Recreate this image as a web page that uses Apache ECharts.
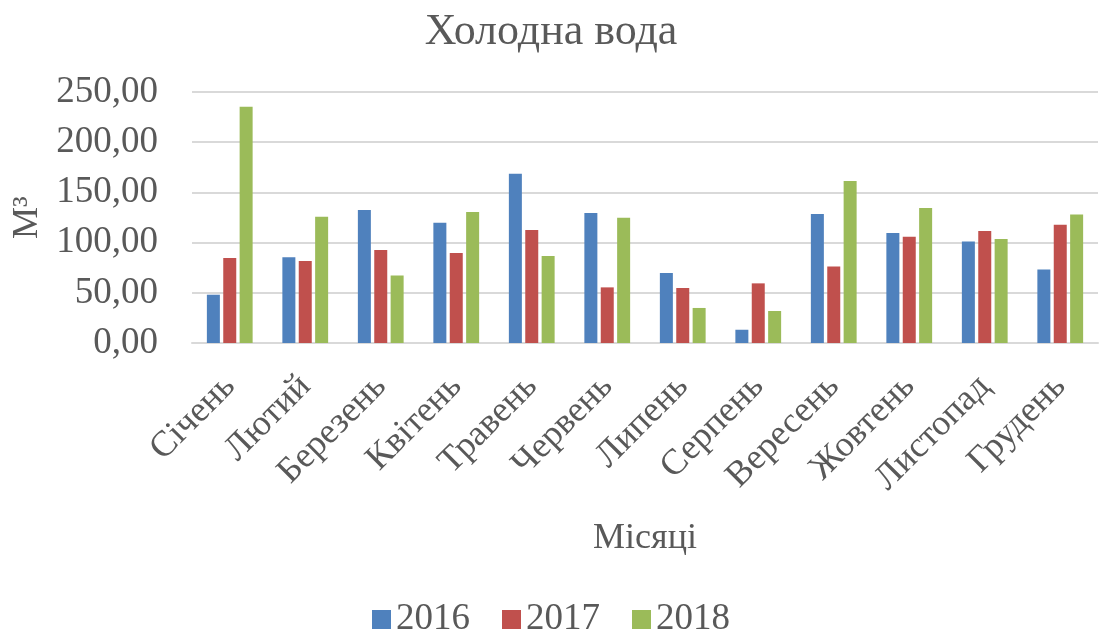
<!DOCTYPE html>
<html>
<head>
<meta charset="utf-8">
<script src="https://cdn.jsdelivr.net/npm/echarts@6/dist/echarts.min.js"></script>
<style>
  html, body { margin: 0; padding: 0; background: #fff; }
  #chart { width: 1102px; height: 633px; }
</style>
</head>
<body>
<div id="chart"></div>
<script>
// Monthly cold water consumption, m³
const months = ['Січень', 'Лютий', 'Березень', 'Квітень', 'Травень', 'Червень',
                'Липень', 'Серпень', 'Вересень', 'Жовтень', 'Листопад', 'Грудень'];
const years = ['2016', '2017', '2018'];
const values2016 = [48.1, 85.3, 132.5, 119.8, 168.6, 129.5, 69.7, 13.2, 128.5, 109.6, 101.2, 73.3];
const values2017 = [84.7, 81.7, 92.6, 89.6, 112.5, 55.4, 54.8, 59.4, 76.3, 105.9, 111.6, 117.8];
const values2018 = [235.3, 125.8, 67.3, 130.5, 86.7, 124.8, 34.9, 31.9, 161.4, 134.5, 103.6, 128.1];
const yTicks = { min: 0, max: 250, interval: 50 };

const FONT = '"Liberation Serif", "Times New Roman", serif';
const TEXT = '#595959';
const GRID = '#d9d9d9';
const colors = ['#4f81bd', '#c0504d', '#9bbb59'];

const fmt = v => v.toFixed(2).replace('.', ',');

const chart = echarts.init(document.getElementById('chart'), null, { renderer: 'canvas' });

chart.setOption({
  animation: false,
  color: colors,
  title: {
    text: 'Холодна вода',
    left: 'center',
    top: 5,
    textStyle: { fontFamily: FONT, fontSize: 44, fontWeight: 'normal', color: TEXT }
  },
  legend: {
    bottom: -10,
    left: 'center',
    itemWidth: 19,
    itemHeight: 19,
    itemGap: 32,
    itemTextGap: 8,
    icon: 'rect',
    data: years,
    textStyle: { fontFamily: FONT, fontSize: 37, color: TEXT }
  },
  grid: { left: 192, right: 4, top: 92, height: 251, containLabel: false },
  xAxis: {
    type: 'category',
    data: months,
    name: 'Місяці',
    nameLocation: 'middle',
    nameGap: 178,
    nameTextStyle: { fontFamily: FONT, fontSize: 36, color: TEXT },
    axisLine: { show: true, lineStyle: { color: GRID, width: 2 } },
    axisTick: { show: false },
    axisLabel: {
      interval: 0,
      rotate: 45,
      margin: 38,
      fontFamily: FONT,
      fontSize: 36,
      color: TEXT
    }
  },
  yAxis: {
    type: 'value',
    min: yTicks.min,
    max: yTicks.max,
    interval: yTicks.interval,
    name: 'М³',
    nameLocation: 'middle',
    nameGap: 145,
    nameRotate: 90,
    nameTextStyle: { fontFamily: FONT, fontSize: 36, color: TEXT },
    axisLine: { show: false },
    axisTick: { show: false },
    axisLabel: {
      margin: 34,
      fontFamily: FONT,
      fontSize: 37,
      color: TEXT,
      formatter: fmt
    },
    splitLine: { lineStyle: { color: GRID, width: 2 } }
  },
  series: [
    { name: years[0], type: 'bar', data: values2016, barWidth: 13, barGap: '26%' },
    { name: years[1], type: 'bar', data: values2017, barWidth: 13, barGap: '26%' },
    { name: years[2], type: 'bar', data: values2018, barWidth: 13, barGap: '26%' }
  ]
});
</script>
</body>
</html>
